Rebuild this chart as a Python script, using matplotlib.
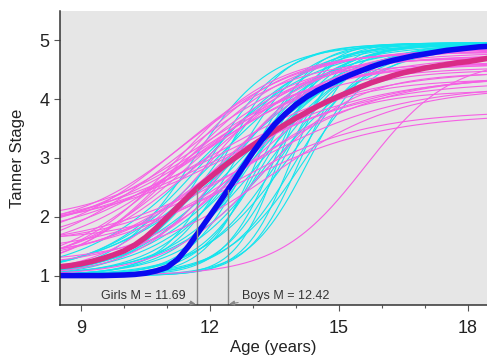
import numpy as np
import matplotlib
matplotlib.use("Agg")
import matplotlib.pyplot as plt

plt.rcParams["font.family"] = ["Liberation Sans", "DejaVu Sans"]

# mean curves (age in years -> Tanner stage)
mean_ages = [8.5, 8.75, 9.0, 9.25, 9.5, 9.75, 10.0, 10.25, 10.5, 10.75,
             11.0, 11.25, 11.5, 11.75, 12.0, 12.25, 12.5, 12.75, 13.0, 13.25,
             13.5, 13.75, 14.0, 14.25, 14.5, 14.75, 15.0, 15.25, 15.5, 15.75,
             16.0, 16.25, 16.5, 16.75, 17.0, 17.25, 17.5, 17.75, 18.0, 18.25,
             18.5]
boys_mean = [1.00, 1.00, 1.00, 1.00, 1.00, 1.005, 1.01, 1.02, 1.04, 1.08,
             1.14, 1.28, 1.50, 1.76, 2.02, 2.28, 2.55, 2.83, 3.10, 3.35,
             3.57, 3.75, 3.91, 4.04, 4.15, 4.24, 4.33, 4.41, 4.48, 4.55,
             4.61, 4.66, 4.70, 4.74, 4.77, 4.80, 4.83, 4.85, 4.87, 4.89,
             4.90]
girls_mean = [1.15, 1.17, 1.20, 1.24, 1.29, 1.35, 1.42, 1.52, 1.65, 1.81,
              1.99, 2.17, 2.35, 2.52, 2.67, 2.82, 2.96, 3.09, 3.22, 3.34,
              3.46, 3.57, 3.68, 3.78, 3.88, 3.97, 4.05, 4.13, 4.21, 4.28,
              4.34, 4.40, 4.45, 4.49, 4.53, 4.56, 4.59, 4.62, 4.64, 4.67,
              4.70]

girls_m = 11.69
boys_m = 12.42

# individual fitted curves: midpoint age, scale (years), upper stage
boys_mid = [11.6, 11.9, 12.1, 12.2, 12.4, 12.5, 12.6, 12.7, 12.8, 12.9, 13.0,
            13.0, 13.1, 13.2, 13.3, 13.4, 13.5, 13.6, 13.7, 13.8, 13.9, 14.0,
            14.1, 14.3, 12.3, 12.0, 13.2, 12.9, 13.5, 12.6, 11.8, 13.6, 14.2]
boys_scale = [0.90, 1.20, 1.30, 1.00, 1.40, 1.10, 0.80, 1.30, 1.00, 0.70, 1.20,
              0.90, 0.60, 1.10, 0.80, 1.00, 0.60, 0.90, 0.70, 1.00, 0.55, 0.80,
              0.60, 0.70, 0.70, 0.85, 0.70, 1.25, 1.20, 1.50, 1.35, 0.50, 0.90]
boys_top = [4.92, 4.95, 4.90, 4.93, 4.95, 4.88, 4.96, 4.94, 4.95, 4.90, 4.96,
            4.93, 4.95, 4.92, 4.94, 4.93, 4.96, 4.92, 4.95, 4.94, 4.96, 4.90,
            4.95, 4.93, 4.94, 4.96, 4.94, 4.95, 4.93, 4.96, 4.94, 4.95, 4.93]

girls_low = [1.00, 1.05, 1.10, 1.00, 1.20, 1.30, 1.40, 1.50, 1.55, 1.60, 1.70,
             1.75, 1.80, 1.75, 1.00, 1.05, 1.10, 1.20, 1.25, 1.35, 1.00, 1.15,
             1.00, 1.45, 1.65, 1.90, 1.10, 1.30, 1.00, 1.50, 1.20, 1.60]
girls_high = [4.85, 4.80, 4.75, 4.70, 4.80, 4.60, 4.75, 4.85, 4.50, 4.65, 4.40,
              4.55, 4.30, 4.70, 4.60, 4.50, 4.80, 4.35, 3.80, 3.75, 4.70, 4.65,
              4.45, 4.25, 4.45, 4.60, 4.90, 4.85, 4.75, 4.40, 4.20, 4.15]
girls_mid = [11.4, 11.3, 11.6, 11.9, 11.2, 11.5, 11.8, 11.3, 12.0, 11.6, 12.2,
             11.9, 12.5, 11.4, 12.3, 12.6, 11.2, 12.1, 12.4, 12.6, 15.6, 12.9,
             13.2, 12.8, 12.4, 12.0, 11.9, 12.5, 11.3, 13.0, 13.4, 12.9]
girls_scale = [1.3, 1.2, 1.4, 1.1, 1.6, 1.5, 1.7, 1.4, 1.8, 1.6, 1.9,
               1.5, 1.7, 1.3, 1.0, 1.2, 1.2, 1.4, 1.6, 1.7, 1.0, 1.3,
               1.1, 1.8, 2.0, 1.4, 1.5, 1.3, 1.5, 1.6, 1.5, 1.2]

age = np.linspace(8.5, 18.5, 200)


def curve(low, high, mid, scale):
    return low + (high - low) / (1 + np.exp(-(age - mid) / scale))


fig = plt.figure(figsize=(4.87, 3.56), dpi=100)
ax = fig.add_axes([0.1232, 0.1433, 0.8768, 0.8258])
ax.set_facecolor("#e6e6e6")

for m, s, t in zip(boys_mid, boys_scale, boys_top):
    ax.plot(age, curve(1.0, t, m, s), color="#12e4ee", lw=0.8)
for lo, hi, m, s in zip(girls_low, girls_high, girls_mid, girls_scale):
    ax.plot(age, curve(lo, hi, m, s), color="#f660e4", lw=0.8)

ax.plot(mean_ages, girls_mean, color="#d92c86", lw=4, solid_capstyle="round")
ax.plot(mean_ages, boys_mean, color="#0a0af0", lw=4, solid_capstyle="round")

# vertical markers at the mean ages
ax.plot([girls_m, girls_m], [0.5, np.interp(girls_m, mean_ages, girls_mean)],
        color="#888888", lw=1)
ax.plot([boys_m, boys_m], [0.5, np.interp(boys_m, mean_ages, boys_mean)],
        color="#888888", lw=1)

arrow = dict(arrowstyle="-|>", color="#888888", lw=0.8, mutation_scale=7,
             shrinkA=1, shrinkB=0)
ax.annotate(f"Girls M = {girls_m:.2f}", xy=(girls_m - 0.03, 0.52),
            xytext=(11.42, 0.66), ha="right", va="center", fontsize=9,
            color="#333333", arrowprops=arrow)
ax.annotate(f"Boys M = {boys_m:.2f}", xy=(boys_m + 0.03, 0.52),
            xytext=(12.75, 0.66), ha="left", va="center", fontsize=9,
            color="#333333", arrowprops=arrow)

ax.set_xlim(8.51, 18.44)
ax.set_ylim(0.5, 5.5)
ax.set_xticks([9, 12, 15, 18])
ax.set_xticks([10, 11, 13, 14, 16, 17], minor=True)
ax.set_yticks([1, 2, 3, 4, 5])

for side in ["top", "right"]:
    ax.spines[side].set_visible(False)
for side in ["left", "bottom"]:
    ax.spines[side].set_color("#333333")
    ax.spines[side].set_linewidth(1.1)

ax.tick_params(axis="both", which="major", length=4, width=0.8,
               color="#555555", labelsize=13, labelcolor="#222222")
ax.tick_params(axis="x", which="major", pad=7)
ax.tick_params(axis="x", which="minor", length=2.5, width=0.8, color="#555555")

ax.set_xlabel("Age (years)", fontsize=12, color="#222222")
ax.set_ylabel("Tanner Stage", fontsize=12, color="#222222")
ax.xaxis.set_label_coords(0.5, -0.12)
ax.yaxis.set_label_coords(-0.082, 0.5)

fig.savefig("out.png", dpi=100)
